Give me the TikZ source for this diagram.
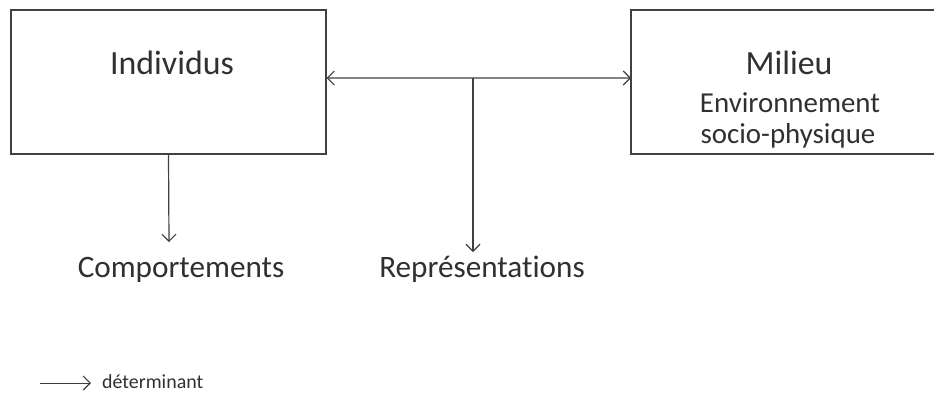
\documentclass[tikz,border=0pt]{standalone}
\usepackage{fontspec}
\setmainfont{Carlito}[Ligatures=NoCommon]
\usetikzlibrary{arrows.meta}
\definecolor{ink}{HTML}{404040}
\definecolor{txt}{HTML}{303030}
\tikzset{
  box/.style={draw=ink, line width=1.2bp, inner sep=0pt},
  tip/.style={Straight Barb[length=7bp,width=14bp,line width=1.1bp]},
  conn/.style={draw=ink, line width=1.2bp, -{Straight Barb[length=7bp,width=14bp,line width=1.1bp]}},
  conn2/.style={draw=ink, line width=1.2bp, {Straight Barb[length=7bp,width=14bp,line width=1.1bp]}-{Straight Barb[length=7bp,width=14bp,line width=1.1bp]}},
  bigtxt/.style={text=txt, font=\fontsize{34}{40}\selectfont, inner sep=0pt},
  midtxt/.style={text=txt, font=\fontsize{29}{34}\selectfont, inner sep=0pt},
  lowtxt/.style={text=txt, font=\fontsize{31.3}{36}\selectfont, inner sep=0pt},
}
\begin{document}
\begin{tikzpicture}[x=1bp,y=-1bp]
\useasboundingbox (0,0) rectangle (934,392);
\node[box, minimum width=315bp, minimum height=144bp] (indiv) at (168.5,82) {};
\node[bigtxt, anchor=base] (tindiv) at (172,74) {Individus};
% right box extends beyond the right edge
\draw[ink, line width=1.2bp] (950,10) -- (631,10) -- (631,154) -- (950,154);
\coordinate (milieu) at (631,78);
\node[bigtxt, anchor=base] (tmil) at (789,74) {Milieu};
\node[midtxt, anchor=base] (tenv) at (790,112) {Environnement};
\node[midtxt, anchor=base] (tsoc) at (788,143) {socio-physique};
\node[lowtxt, anchor=base] (comp) at (181,277) {Comportements};
\node[lowtxt, anchor=base] (repr) at (482,277) {Représentations};
\coordinate (j) at (473,78);
\coordinate (ce) at (169,242);
\coordinate (re) at (473,252);
\draw[conn2] ([yshift=4bp]indiv.east) -- (milieu);
\draw[conn] (j) -- (re);
\draw[conn] (indiv.south) -- (ce);
% legend
\coordinate (l1) at (40,383);
\coordinate (l2) at (91,383);
\draw[conn, line width=1bp] (l1) -- (l2);
\node[text=txt, font=\fontsize{20}{24}\selectfont, anchor=base west, inner sep=0pt] (leg) at (102,388) {déterminant};
\end{tikzpicture}
\end{document}
